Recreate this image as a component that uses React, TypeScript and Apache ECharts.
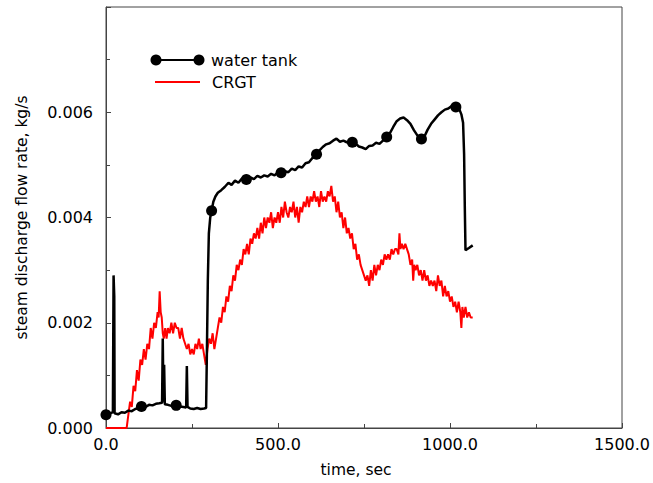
import React, { useEffect, useRef } from "react";
import * as echarts from "echarts";

const FONT = '"DejaVu Sans", "Liberation Sans", Arial, sans-serif';

const xTicks = [0, 500, 1000, 1500];
const yTicks = [0, 0.002, 0.004, 0.006, 0.008];

const waterTank: [number, number][] = [
  [0, 0.00025], [10, 0.00027], [20, 0.0003], [22, 0.0029], [24, 0.0025], [25, 0.00028],
  [35, 0.00026], [45, 0.0003], [55, 0.00029], [65, 0.00033], [75, 0.00032], [85, 0.00036],
  [95, 0.00038], [103, 0.00041], [115, 0.0004], [125, 0.00044], [135, 0.00043], [145, 0.00046],
  [155, 0.00047], [163, 0.00048], [165, 0.0017], [167, 0.0005], [169, 0.0012], [171, 0.00045],
  [180, 0.00044], [190, 0.00042], [204, 0.00043], [215, 0.00041], [225, 0.0004], [233, 0.00039],
  [235, 0.00118], [237, 0.0004], [245, 0.00037], [255, 0.00036], [265, 0.00038], [275, 0.00036],
  [285, 0.00037], [291, 0.00038], [293, 0.0013], [296, 0.0028], [299, 0.0037], [303, 0.004],
  [307, 0.00413], [312, 0.0043], [318, 0.0044], [325, 0.00447], [335, 0.00452], [345, 0.00458],
  [356, 0.00466], [365, 0.00462], [375, 0.0047], [385, 0.00466], [395, 0.00474], [408, 0.00472],
  [420, 0.00476], [430, 0.00473], [440, 0.00479], [450, 0.00476], [460, 0.0048], [470, 0.00478],
  [480, 0.00483], [490, 0.0048], [500, 0.00486], [509, 0.00485], [520, 0.00488], [530, 0.00486],
  [540, 0.00493], [550, 0.0049], [560, 0.00497], [570, 0.00495], [580, 0.00503], [590, 0.00505],
  [600, 0.00513], [612, 0.0052], [620, 0.00527], [630, 0.00534], [640, 0.00539], [650, 0.00541],
  [660, 0.00546], [670, 0.0055], [680, 0.00544], [690, 0.00546], [700, 0.00543], [716, 0.00543],
  [725, 0.00541], [735, 0.00535], [745, 0.00533], [755, 0.0053], [765, 0.00536], [775, 0.00537],
  [785, 0.00542], [795, 0.0054], [805, 0.00546], [816, 0.00553], [825, 0.0056], [835, 0.00572],
  [845, 0.00583], [855, 0.00588], [865, 0.0059], [875, 0.00585], [885, 0.00578], [895, 0.00566],
  [905, 0.00556], [917, 0.00549], [925, 0.00553], [935, 0.00567], [945, 0.00578], [955, 0.00586],
  [965, 0.00594], [975, 0.006], [985, 0.00605], [995, 0.00607], [1005, 0.00612], [1017, 0.0061],
  [1027, 0.00606], [1033, 0.00596], [1038, 0.0058], [1041, 0.0052], [1043, 0.0042], [1045, 0.00338],
  [1055, 0.00342], [1066, 0.00347],
];

const waterTankMarkers: [number, number][] = [
  [0, 0.00025], [103, 0.00041], [204, 0.00043], [307, 0.00413], [408, 0.00472], [509, 0.00485],
  [612, 0.0052], [716, 0.00543], [816, 0.00553], [917, 0.00549], [1017, 0.0061],
];

const crgt: [number, number][] = [
  [0, 0], [60, 0], [64, 0.0002], [70, 0.0005], [75, 0.0004], [80, 0.0008], [85, 0.0007], [90, 0.0011],
  [95, 0.0009], [100, 0.0013], [105, 0.0012], [110, 0.0015], [115, 0.0013], [120, 0.0016], [125, 0.0015],
  [130, 0.0019], [135, 0.0017], [140, 0.002], [145, 0.0019], [150, 0.0022], [153, 0.0021], [156, 0.0026],
  [159, 0.0022], [162, 0.0021], [165, 0.0018], [168, 0.0017], [172, 0.0019], [176, 0.0017], [180, 0.0019],
  [185, 0.0018], [190, 0.002], [195, 0.0018], [200, 0.002], [205, 0.0019], [210, 0.0019], [215, 0.0017],
  [220, 0.0019], [225, 0.0017], [230, 0.0016], [235, 0.0015], [240, 0.0016], [245, 0.0014], [250, 0.0015],
  [255, 0.0014], [260, 0.0016], [265, 0.0015], [270, 0.0017], [275, 0.0015], [280, 0.0016], [285, 0.0014],
  [290, 0.0012], [295, 0.0015], [300, 0.0017], [305, 0.0016], [310, 0.0018], [315, 0.0015], [320, 0.0017],
  [325, 0.0019], [330, 0.0021], [335, 0.002], [340, 0.0023], [345, 0.0022], [350, 0.0025], [355, 0.0024],
  [360, 0.0027], [365, 0.0026], [370, 0.0029], [375, 0.0028], [380, 0.0031], [385, 0.003], [390, 0.0032],
  [395, 0.0031], [400, 0.0034], [405, 0.0033], [410, 0.0035], [415, 0.0033], [420, 0.0036], [425, 0.0035],
  [430, 0.0037], [435, 0.0036], [440, 0.0038], [445, 0.0036], [450, 0.0039], [455, 0.0037], [460, 0.004],
  [465, 0.0038], [470, 0.004], [475, 0.0039], [480, 0.0041], [485, 0.0038], [490, 0.004], [495, 0.0039],
  [500, 0.0041], [505, 0.0039], [510, 0.0042], [515, 0.004], [520, 0.0043], [525, 0.0041], [530, 0.004],
  [535, 0.0042], [540, 0.0041], [545, 0.0043], [550, 0.004], [555, 0.0042], [560, 0.0039], [565, 0.0042],
  [570, 0.0041], [575, 0.0043], [580, 0.0042], [585, 0.0044], [590, 0.0042], [595, 0.0044], [600, 0.0043],
  [605, 0.0045], [610, 0.0043], [615, 0.0044], [620, 0.0042], [625, 0.0045], [630, 0.0043], [635, 0.0044],
  [640, 0.0043], [645, 0.0045], [650, 0.0044], [655, 0.0046], [660, 0.0043], [665, 0.0044], [670, 0.0041],
  [675, 0.0043], [680, 0.004], [685, 0.0041], [690, 0.0038], [695, 0.004], [700, 0.0037], [705, 0.0038],
  [710, 0.0036], [715, 0.0037], [720, 0.0034], [725, 0.0035], [730, 0.0032], [735, 0.0033], [740, 0.0031],
  [745, 0.003], [750, 0.0029], [755, 0.0028], [760, 0.0029], [765, 0.0027], [770, 0.003], [775, 0.0028],
  [780, 0.0031], [785, 0.0029], [790, 0.0031], [795, 0.003], [800, 0.0032], [805, 0.0031], [810, 0.0033],
  [815, 0.0032], [820, 0.0033], [825, 0.0032], [830, 0.0034], [835, 0.0033], [840, 0.0034], [845, 0.0034],
  [850, 0.0033], [853, 0.0037], [856, 0.0034], [860, 0.0035], [865, 0.0034], [870, 0.0035], [875, 0.0034],
  [880, 0.0033], [885, 0.0031], [890, 0.0032], [893, 0.0028], [896, 0.0031], [900, 0.003], [905, 0.0031],
  [910, 0.0029], [915, 0.003], [920, 0.0028], [925, 0.003], [930, 0.0028], [935, 0.0029], [940, 0.0027],
  [945, 0.0028], [950, 0.0027], [955, 0.0028], [960, 0.0026], [965, 0.0029], [970, 0.0027], [975, 0.0028],
  [980, 0.0025], [985, 0.0027], [990, 0.0025], [995, 0.0026], [1000, 0.0024], [1005, 0.0025], [1010, 0.0023],
  [1015, 0.0024], [1020, 0.0022], [1025, 0.0024], [1030, 0.0022], [1033, 0.0019], [1036, 0.0023],
  [1040, 0.0021], [1045, 0.0023], [1050, 0.0021], [1055, 0.0022], [1060, 0.0021], [1066, 0.0021],
];

const legendNames = ["water tank", "CRGT"];

export default function App() {
  const ref = useRef<HTMLDivElement>(null);
  useEffect(() => {
    if (!ref.current) return;
    const chart = echarts.init(ref.current, null, { renderer: "svg" });
    const axisColor = "#444";
    chart.setOption({
      animation: false,
      backgroundColor: "#fff",
      grid: { left: 106, right: 26, top: 7, bottom: 53, show: true, borderColor: axisColor, borderWidth: 1 },
      xAxis: {
        type: "value",
        min: xTicks[0],
        max: xTicks[xTicks.length - 1],
        interval: 500,
        name: "time, sec",
        nameLocation: "middle",
        nameGap: 34,
        nameTextStyle: { fontFamily: FONT, fontSize: 15.5, color: "#000", padding: [0, 16, 0, 0] },
        axisLine: { lineStyle: { color: axisColor } },
        axisTick: { inside: true, length: 5, lineStyle: { color: axisColor } },
        minorTick: { show: true, splitNumber: 2, length: 4, lineStyle: { color: axisColor } },
        splitLine: { show: false },
        axisLabel: { fontFamily: FONT, fontSize: 16, color: "#000", margin: 8, formatter: (v: number) => v.toFixed(1) },
      },
      yAxis: {
        type: "value",
        min: yTicks[0],
        max: yTicks[yTicks.length - 1],
        interval: 0.002,
        name: "steam discharge flow rate, kg/s",
        nameLocation: "middle",
        nameGap: 76,
        nameTextStyle: { fontFamily: FONT, fontSize: 15.5, color: "#000" },
        axisLine: { lineStyle: { color: axisColor } },
        axisTick: { inside: true, length: 5, lineStyle: { color: axisColor } },
        minorTick: { show: true, splitNumber: 2, length: 4, lineStyle: { color: axisColor } },
        splitLine: { show: false },
        axisLabel: {
          fontFamily: FONT, fontSize: 16, color: "#000", margin: 13,
          formatter: (v: number) => (v > 0.0075 ? "" : v.toFixed(3)),
        },
      },
      series: [
        {
          type: "line", name: legendNames[1], data: crgt, showSymbol: false, symbol: "none",
          lineStyle: { color: "#ff0000", width: 2 }, z: 2,
        },
        {
          type: "line", name: legendNames[0], data: waterTank, showSymbol: false, symbol: "none",
          lineStyle: { color: "#000", width: 2.5 }, z: 3,
        },
        {
          type: "scatter", name: legendNames[0] + " markers", data: waterTankMarkers, symbol: "circle",
          symbolSize: 11, itemStyle: { color: "#000", opacity: 1 }, z: 4,
        },
      ],
      graphic: [
        { type: "line", shape: { x1: 156, y1: 60, x2: 199, y2: 60 }, style: { stroke: "#000", lineWidth: 2 } },
        { type: "circle", shape: { cx: 156, cy: 60, r: 5.5 }, style: { fill: "#000" } },
        { type: "circle", shape: { cx: 199, cy: 60, r: 5.5 }, style: { fill: "#000" } },
        {
          type: "text", x: 211, y: 60,
          style: { text: legendNames[0], font: `16px ${FONT}`, fill: "#000", verticalAlign: "middle" },
        },
        { type: "line", shape: { x1: 155, y1: 82, x2: 200, y2: 82 }, style: { stroke: "#ff0000", lineWidth: 2 } },
        {
          type: "text", x: 212, y: 82,
          style: { text: legendNames[1], font: `16px ${FONT}`, fill: "#000", verticalAlign: "middle" },
        },
      ],
    });
    return () => chart.dispose();
  }, []);
  return <div ref={ref} style={{ position: "fixed", left: 0, top: 0, width: 653, height: 483 }} />;
}
